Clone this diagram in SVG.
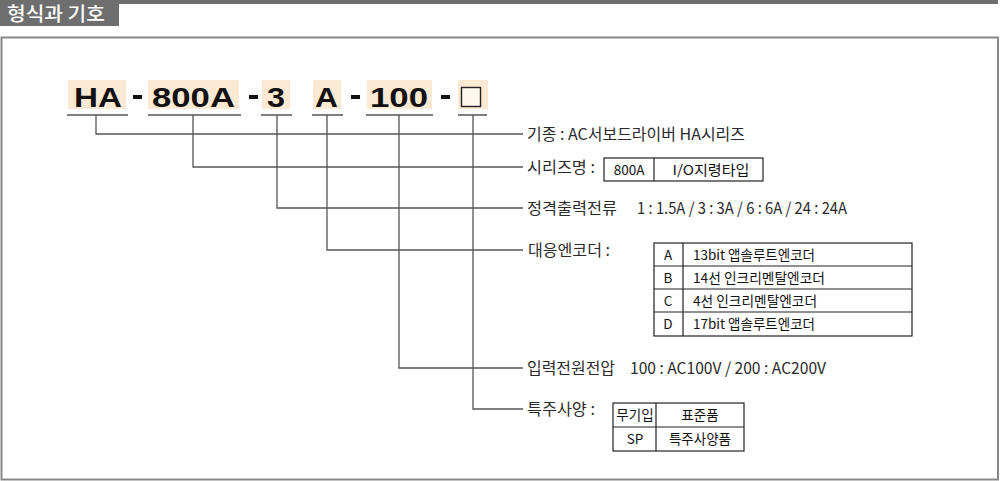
<svg xmlns="http://www.w3.org/2000/svg" width="1000" height="481" viewBox="0 0 1000 481">
<style>
.lbl{font-family:"Noto Sans CJK KR","Liberation Sans",sans-serif;font-size:16px;fill:#2a2a2a}
.tb{font-family:"Noto Sans CJK KR","Liberation Sans",sans-serif;font-size:13.5px;fill:#111}
.code{font-family:"Liberation Sans",Arial,sans-serif;font-weight:bold;font-size:27.5px;fill:#111}
.hl{fill:#fce9d3}
.ul{stroke:#555;stroke-width:1.3;fill:none}
.ln{stroke:#555;stroke-width:1.3;fill:none}
.box{fill:#fff;stroke:#222;stroke-width:1.2}
</style>
<rect x="0" y="0" width="1000" height="481" fill="#fff"/>
<g id="header">
<rect x="0" y="0" width="998" height="4" fill="#6e6e6e"/>
<rect x="0" y="0" width="119" height="26" fill="#6e6e6e"/>
<text x="7" y="21" font-family="Noto Sans CJK KR, sans-serif" font-size="19" font-weight="500" fill="#fff" textLength="98" lengthAdjust="spacingAndGlyphs">형식과 기호</text>
</g>
<rect id="frame" x="1.5" y="37.5" width="996.5" height="442" fill="none" stroke="#888" stroke-width="2"/>
<g id="model-code">
<rect class="hl" x="68" y="80" width="58" height="29"/>
<rect class="hl" x="148" y="80" width="91" height="29"/>
<rect class="hl" x="262" y="80" width="28" height="29"/>
<rect class="hl" x="313" y="80" width="28" height="29"/>
<rect class="hl" x="367" y="80" width="65" height="29"/>
<rect class="hl" x="458" y="80" width="30" height="29"/>
<text class="code" x="74" y="107" textLength="48" lengthAdjust="spacingAndGlyphs">HA</text>
<rect x="133" y="95" width="9" height="4" fill="#111"/>
<text class="code" x="152" y="107" textLength="83" lengthAdjust="spacingAndGlyphs">800A</text>
<rect x="249" y="95" width="9" height="4" fill="#111"/>
<text class="code" x="267" y="107" textLength="18" lengthAdjust="spacingAndGlyphs">3</text>
<text class="code" x="315" y="107" textLength="23" lengthAdjust="spacingAndGlyphs">A</text>
<rect x="351" y="95" width="9" height="4" fill="#111"/>
<text class="code" x="370" y="107" textLength="58" lengthAdjust="spacingAndGlyphs">100</text>
<rect x="441" y="95" width="9" height="4" fill="#111"/>
<rect x="461.5" y="87.5" width="19" height="19" fill="#fff8ee" stroke="#222" stroke-width="1.4"/>
<path class="ul" d="M67 115H128M148 115H241M261 115H292M312 115H343M366 115H433M458 115H487"/>
</g>
<g id="connectors">
<path class="ln" d="M96 115V134H523"/>
<path class="ln" d="M193 115V167H523"/>
<path class="ln" d="M277 115V208H523"/>
<path class="ln" d="M327 115V250H523"/>
<path class="ln" d="M399 115V368H523"/>
<path class="ln" d="M473 115V409H523"/>
</g>
<g id="node-type">
<text class="lbl" x="527" y="140" textLength="218" lengthAdjust="spacingAndGlyphs">기종 : AC서보드라이버 HA시리즈</text>
</g>
<g id="node-series">
<text class="lbl" x="527" y="173" textLength="68" lengthAdjust="spacingAndGlyphs">시리즈명 :</text>
<rect class="box" x="604" y="158" width="159" height="23"/>
<line x1="654" y1="158" x2="654" y2="181" stroke="#222" stroke-width="1.2"/>
<text class="tb" x="629" y="175" text-anchor="middle">800A</text>
<text class="tb" x="711" y="175" text-anchor="middle" textLength="77" lengthAdjust="spacingAndGlyphs">I/O지령타입</text>
</g>
<g id="node-current">
<text class="lbl" x="527" y="214" textLength="90" lengthAdjust="spacingAndGlyphs">정격출력전류</text>
<text class="lbl" x="637" y="214" textLength="210" lengthAdjust="spacingAndGlyphs">1 : 1.5A / 3 : 3A / 6 : 6A / 24 : 24A</text>
</g>
<g id="node-encoder">
<text class="lbl" x="528" y="256" textLength="82" lengthAdjust="spacingAndGlyphs">대응엔코더 :</text>
<rect class="box" x="654" y="243" width="258" height="93"/>
<path d="M654 266H912M654 289H912M654 312H912M683 243V336" stroke="#222" stroke-width="1.2" fill="none"/>
<text class="tb" x="668" y="260" text-anchor="middle">A</text>
<text class="tb" x="668" y="283" text-anchor="middle">B</text>
<text class="tb" x="668" y="306" text-anchor="middle">C</text>
<text class="tb" x="668" y="329" text-anchor="middle">D</text>
<text class="tb" x="693" y="260" textLength="122" lengthAdjust="spacingAndGlyphs">13bit 앱솔루트엔코더</text>
<text class="tb" x="693" y="283" textLength="132" lengthAdjust="spacingAndGlyphs">14선 인크리멘탈엔코더</text>
<text class="tb" x="693" y="306" textLength="124" lengthAdjust="spacingAndGlyphs">4선 인크리멘탈엔코더</text>
<text class="tb" x="693" y="329" textLength="122" lengthAdjust="spacingAndGlyphs">17bit 앱솔루트엔코더</text>
</g>
<g id="node-voltage">
<text class="lbl" x="527" y="374" textLength="88" lengthAdjust="spacingAndGlyphs">입력전원전압</text>
<text class="lbl" x="630" y="374" textLength="196" lengthAdjust="spacingAndGlyphs">100 : AC100V / 200 : AC200V</text>
</g>
<g id="node-special">
<text class="lbl" x="527" y="415" textLength="68" lengthAdjust="spacingAndGlyphs">특주사양 :</text>
<rect class="box" x="613" y="403" width="131" height="48"/>
<path d="M613 427H744M656 403V451" stroke="#222" stroke-width="1.2" fill="none"/>
<text class="tb" x="635" y="420" text-anchor="middle">무기입</text>
<text class="tb" x="700" y="420" text-anchor="middle">표준품</text>
<text class="tb" x="635" y="444" text-anchor="middle">SP</text>
<text class="tb" x="700" y="444" text-anchor="middle">특주사양품</text>
</g>
</svg>
